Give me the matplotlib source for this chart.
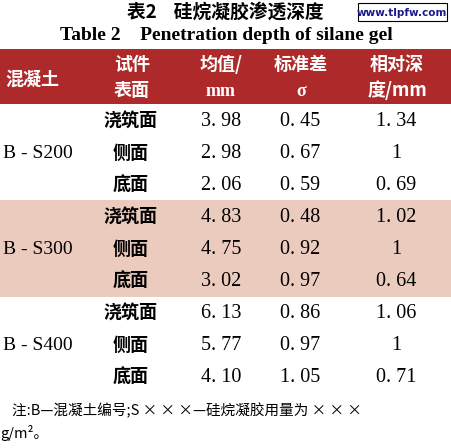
import matplotlib.pyplot as plt
from matplotlib.patches import Rectangle

plt.rcParams['font.family'] = ['Noto Sans CJK SC', 'DejaVu Sans']

groups = ['B - S200', 'B - S300', 'B - S400']
surfaces = ['浇筑面', '侧面', '底面']
means = [['3. 98', '2. 98', '2. 06'], ['4. 83', '4. 75', '3. 02'], ['6. 13', '5. 77', '4. 10']]
sigmas = [['0. 45', '0. 67', '0. 59'], ['0. 48', '0. 92', '0. 97'], ['0. 86', '0. 97', '1. 05']]
rel = [['1. 34', '1', '0. 69'], ['1. 02', '1', '0. 64'], ['1. 06', '1', '0. 71']]

W, H = 451, 448
fig = plt.figure(figsize=(W / 100, H / 100), dpi=100)
ax = fig.add_axes([0, 0, 1, 1])
ax.set_xlim(0, W)
ax.set_ylim(H, 0)
ax.axis('off')

serif = ['Liberation Serif', 'DejaVu Serif']
cjk = ['Noto Sans CJK SC', 'DejaVu Sans']

ax.text(225, 12, '表2    硅烷凝胶渗透深度', fontsize=13.5, fontweight='bold', ha='center', va='center', family=cjk)
ax.add_patch(Rectangle((358, 3), 89, 18, fill=False, ec='black', lw=0.8))
ax.text(402, 12.5, 'www.tlpfw.com', fontsize=7.5, fontweight='bold', color='#1a1a8c', ha='center', va='center', family='DejaVu Sans')
ax.text(226, 35, 'Table 2    Penetration depth of silane gel', fontsize=14, fontweight='bold', ha='center', va='center', family=serif)

# header
ax.add_patch(Rectangle((0, 49), W, 55, color='#ae2a2a', lw=0))
hdr = dict(color='white', fontsize=13, fontweight='bold', ha='center', va='center')
ax.text(32, 79, '混凝土', family=cjk, **hdr)
ax.text(132, 64, '试件', family=cjk, **hdr)
ax.text(132, 90, '表面', family=cjk, **hdr)
ax.text(221, 64, '均值/', family=cjk, **hdr)
ax.text(221, 91, 'mm', family=serif, **hdr)
ax.text(301, 64, '标准差', family=cjk, **hdr)
ax.text(301, 91, 'σ', family=serif, **hdr)
ax.text(397, 64, '相对深', family=cjk, **hdr)
ax.text(397, 90, '度/mm', family=cjk, **hdr)

# pink band for middle group
ax.add_patch(Rectangle((0, 200), W, 97, color='#eccbbf', lw=0))

y0s = [121, 217, 313]
for g, y0 in enumerate(y0s):
    ys = [y0, y0 + 32, y0 + 64]
    ax.text(3, ys[1], groups[g], fontsize=14, ha='left', va='center', family=serif)
    for i, y in enumerate(ys):
        ax.text(131, y, surfaces[i], fontsize=13, fontweight='bold', ha='center', va='center', family=cjk)
        ax.text(221, y, means[g][i], fontsize=14.5, ha='center', va='center', family=serif)
        ax.text(300, y, sigmas[g][i], fontsize=14.5, ha='center', va='center', family=serif)
        ax.text(396, y, rel[g][i], fontsize=14.5, ha='center', va='center', family=serif)

ax.text(12, 411, '注:B—混凝土编号;S × × ×—硅烷凝胶用量为 × × ×', fontsize=10.5, ha='left', va='center', family=cjk)
ax.text(0, 433, 'g/m²。', fontsize=10.5, ha='left', va='center', family=cjk)

fig.savefig('out.png', dpi=100)
